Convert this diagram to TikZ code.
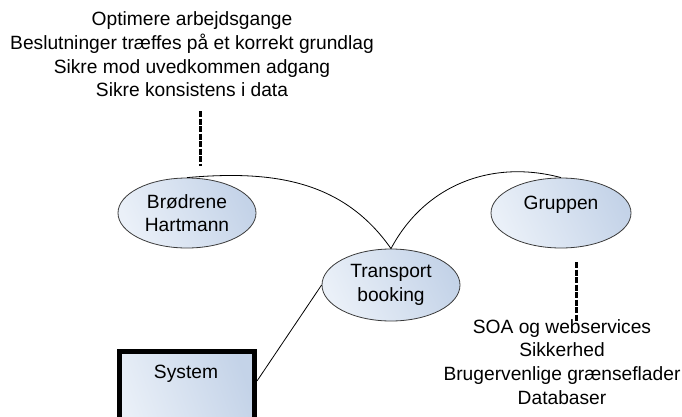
\documentclass[tikz,border=0pt]{standalone}
\usepackage{fontspec}
\setmainfont{Liberation Sans}
\usetikzlibrary{shapes.geometric}
\definecolor{bubblelight}{HTML}{EAF0F8}
\definecolor{bubbledark}{HTML}{C4D3E8}
\definecolor{bubbleedge}{HTML}{3A3A3A}
\tikzset{
  bubble/.style={ellipse, draw=bubbleedge, line width=0.8pt,
    left color=bubblelight, right color=bubbledark, shading angle=115,
    align=center, inner sep=0pt, font=\fontsize{19.2}{23.7}\selectfont},
  sysbox/.style={rectangle, draw=black, line width=5pt,
    left color=bubblelight, right color=bubbledark, shading angle=110,
    inner sep=0pt},
  plain/.style={align=center, inner sep=0pt, font=\fontsize{19.2}{23.7}\selectfont},
  link/.style={draw=black, line width=0.8pt},
  goal/.style={draw=black, line width=3pt, dash pattern=on 6pt off 1.5pt}
}
\begin{document}
\begin{tikzpicture}[x=1pt,y=1pt]
  \clip (0,0) rectangle (682,416);
  \useasboundingbox (0,0) rectangle (682,416);

  % goals of the customer
  \node[plain, anchor=north] (goals) at (192,404.5)
    {Optimere arbejdsgange\\
     Beslutninger træffes på et korrekt grundlag\\
     Sikre mod uvedkommen adgang\\
     Sikre konsistens i data};

  % stakeholders
  \node[bubble, minimum width=138pt, minimum height=70pt] (brod) at (187,203)
    {Brødrene\\Hartmann};
  \node[bubble, minimum width=138pt, minimum height=72pt] (trans) at (391,131)
    {Transport\\booking};
  \node[bubble, minimum width=140pt, minimum height=70pt, text depth=20pt] (grup) at (561,203)
    {Gruppen};

  % system box, running off the bottom edge
  \node[sysbox, minimum width=135pt, minimum height=94.5pt] (sysbox) at (187,17.25) {};
  \node[plain] (systext) at (186,42) {System};

  % focus areas
  \node[plain, anchor=north] (areas) at (562,97)
    {SOA og webservices\\
     Sikkerhed\\
     Brugervenlige grænseflader\\
     Databaser};

  % dashed annotation lines
  \coordinate (g1) at (200,305);
  \coordinate (g2) at (200,250);
  \coordinate (a1) at (576,154);
  \coordinate (a2) at (576,95);
  \draw[goal] (g1) -- (g2);
  \draw[goal] (a1) -- (a2);

  % connections
  \draw[link] (brod.north) to[out=5, in=125] (trans.north);
  \draw[link] (trans.north) to[out=62, in=165] (grup.north);
  \draw[link] ([yshift=-32pt]sysbox.north east) -- (trans.west);
\end{tikzpicture}
\end{document}
